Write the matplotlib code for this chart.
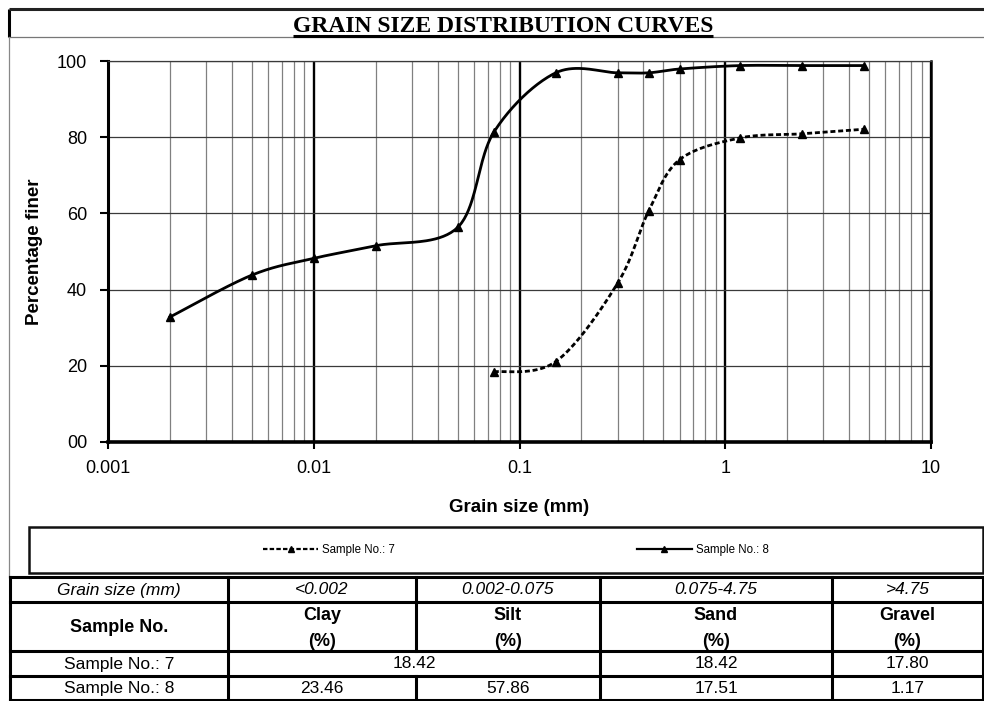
import numpy as np
import matplotlib
matplotlib.use("Agg")
import matplotlib.pyplot as plt
from matplotlib.lines import Line2D
from matplotlib.ticker import LogLocator, NullFormatter

plt.rcParams['font.family'] = ['Liberation Sans', 'DejaVu Sans']

# ---------------- data ----------------
sizes8 = [0.002, 0.005, 0.01, 0.02, 0.05, 0.075, 0.15, 0.3, 0.425, 0.6, 1.18, 2.36, 4.75]
finer8 = [32.8, 43.8, 48.2, 51.5, 56.3, 81.3, 96.9, 96.9, 96.9, 97.9, 98.8, 98.8, 98.8]
sizes7 = [0.075, 0.15, 0.3, 0.425, 0.6, 1.18, 2.36, 4.75]
finer7 = [18.4, 21.1, 41.7, 60.7, 74.1, 79.8, 80.9, 82.1]

xticks = [0.001, 0.01, 0.1, 1, 10]
xticklabels = ["0.001", "0.01", "0.1", "1", "10"]
yticks = [0, 20, 40, 60, 80, 100]
yticklabels = ["00", "20", "40", "60", "80", "100"]

title = "GRAIN SIZE DISTRIBUTION CURVES"
range_header = ["Grain size (mm)", "<0.002", "0.002-0.075", "0.075-4.75", ">4.75"]
class_header = ["Sample No.", "Clay", "Silt", "Sand", "Gravel"]
row7 = ["Sample No.: 7", "18.42", "18.42", "17.80"]          # clay+silt merged
row8 = ["Sample No.: 8", "23.46", "57.86", "17.51", "1.17"]


def smooth(xs, ys, n=40):
    """Excel-like smoothed line (Catmull-Rom Bezier) in log-x space."""
    P = np.column_stack([np.log10(xs), ys])
    out = []
    m = len(P)
    t = np.linspace(0, 1, n)[:, None]
    for i in range(m - 1):
        p0 = P[i - 1] if i > 0 else P[i]
        p1 = P[i]
        p2 = P[i + 1]
        p3 = P[i + 2] if i + 2 < m else P[i + 1]
        c1 = p1 + (p2 - p0) / 6.0
        c2 = p2 - (p3 - p1) / 6.0
        B = ((1 - t) ** 3) * p1 + 3 * ((1 - t) ** 2) * t * c1 + 3 * (1 - t) * t ** 2 * c2 + t ** 3 * p2
        out.append(B if i == 0 else B[1:])
    B = np.vstack(out)
    return 10 ** B[:, 0], B[:, 1]


W, H = 984, 701
fig = plt.figure(figsize=(W / 100, H / 100), dpi=100)

# overlay in pixel coordinates for frame, title, legend box and table
ov = fig.add_axes([0, 0, 1, 1], zorder=0)
ov.set_xlim(0, W)
ov.set_ylim(H, 0)
ov.axis('off')

# main plot axes
L, R, T, Bm = 108, 931, 61, 442
ax = fig.add_axes([L / W, (H - Bm) / H, (R - L) / W, (Bm - T) / H], zorder=2)
ax.set_facecolor('none')
ax.set_xscale('log')
ax.set_xlim(0.001, 10)
ax.set_ylim(0, 100)

ax.xaxis.set_minor_locator(LogLocator(base=10, subs=np.arange(2, 10)))
ax.xaxis.set_minor_formatter(NullFormatter())
ax.set_xticks(xticks)
ax.set_xticklabels(xticklabels)
ax.set_yticks(yticks)
ax.set_yticklabels(yticklabels)
ax.tick_params(axis='x', which='major', length=5, width=1.5, pad=8, labelsize=13, direction='out')
ax.tick_params(axis='x', which='minor', length=0)
ax.tick_params(axis='y', length=6, width=1.5, pad=9, labelsize=13, direction='out')

ax.grid(True, axis='x', which='major', color='black', lw=1.7)
ax.grid(True, axis='x', which='minor', color='#808080', lw=0.9)
ax.grid(True, axis='y', which='major', color='#3a3a3a', lw=0.9)
ax.set_axisbelow(True)

ax.spines['left'].set_linewidth(2.2)
ax.spines['bottom'].set_linewidth(2.6)
ax.spines['right'].set_linewidth(1.8)
ax.spines['top'].set_linewidth(0.9)
ax.spines['top'].set_color('#3a3a3a')

ax.set_xlabel("Grain size (mm)", fontsize=13.5, fontweight='bold', labelpad=16)
ax.set_ylabel("Percentage finer", fontsize=13.5, fontweight='bold', labelpad=10)

sx7, sy7 = smooth(sizes7, finer7)
sx8, sy8 = smooth(sizes8, finer8)
ax.plot(sx7, sy7, color='black', lw=2.0, ls=(0, (1.8, 1.0)), zorder=3)
ax.plot(sx8, sy8, color='black', lw=2.0, zorder=3)
ax.plot(sizes7, finer7, ls='none', marker='^', ms=6, color='black', zorder=4)
ax.plot(sizes8, finer8, ls='none', marker='^', ms=6, color='black', zorder=4)

# legend
h7 = Line2D([], [], color='black', lw=1.6, ls=(0, (2.0, 1.0)), marker='^', ms=5)
h8 = Line2D([], [], color='black', lw=1.6, marker='^', ms=5)
fig.legend([h7, h8], ["Sample No.: 7", "Sample No.: 8"], ncol=2, frameon=False,
           loc='center left', bbox_to_anchor=(263 / W, (H - 550) / H),
           fontsize=8.3, handlelength=4.8, handletextpad=0.3, columnspacing=21,
           borderpad=0, borderaxespad=0)

# outer frames
ov.plot([9, 9], [9, 37], color='black', lw=2.2, solid_capstyle='butt')
ov.plot([9, W], [9, 9], color='#222222', lw=2.2, solid_capstyle='butt')
ov.plot([9, W], [37, 37], color='#777777', lw=0.9)
ov.plot([8.5, 8.5], [37, 577], color='#888888', lw=0.9)

# title with underline
t = ov.text(503, 32, title, ha='center', va='baseline', fontsize=17,
            fontweight='bold', family='Liberation Serif')
fig.canvas.draw()
bb = t.get_window_extent(renderer=fig.canvas.get_renderer())
x0, x1 = bb.x0 * W / fig.bbox.width, bb.x1 * W / fig.bbox.width
ov.plot([x0, x1], [35.5, 35.5], color='black', lw=2.2, solid_capstyle='butt')

# legend box
ov.add_patch(plt.Rectangle((29, 527), 954, 46, fill=False, ec='#111111', lw=1.8))

# table
tl = dict(color='black', lw=2.2, solid_capstyle='projecting')
rows = [577, 602, 651, 676, 699.5]
cols = [10, 228, 416, 600, 832, 983]
for y in rows:
    ov.plot([cols[0], cols[-1]], [y, y], **tl)
for c in [cols[0], cols[1], cols[3], cols[4], cols[5]]:
    ov.plot([c, c], [rows[0], rows[-1]], **tl)
ov.plot([cols[2], cols[2]], [rows[0], rows[2]], **tl)
ov.plot([cols[2], cols[2]], [rows[3], rows[4]], **tl)

cx = [(cols[i] + cols[i + 1]) / 2 for i in range(5)]
fs = 12.5
for i, s in enumerate(range_header):
    ov.text(cx[i], 590, s, ha='center', va='center', fontsize=fs, style='italic')
ov.text(cx[0], 627, class_header[0], ha='center', va='center', fontsize=13, fontweight='bold')
for i in range(1, 5):
    ov.text(cx[i], 616, class_header[i], ha='center', va='center', fontsize=13, fontweight='bold')
    ov.text(cx[i], 641, "(%)", ha='center', va='center', fontsize=13, fontweight='bold')

ymid7 = (rows[2] + rows[3]) / 2 + 0.5
ymid8 = (rows[3] + rows[4]) / 2 + 0.5
ov.text(cx[0], ymid7, row7[0], ha='center', va='center', fontsize=fs)
ov.text((cols[1] + cols[3]) / 2, ymid7, row7[1], ha='center', va='center', fontsize=fs)
ov.text(cx[3], ymid7, row7[2], ha='center', va='center', fontsize=fs)
ov.text(cx[4], ymid7, row7[3], ha='center', va='center', fontsize=fs)
for i, s in enumerate(row8):
    ov.text(cx[i], ymid8, s, ha='center', va='center', fontsize=fs)

fig.savefig("out.png", dpi=100)
